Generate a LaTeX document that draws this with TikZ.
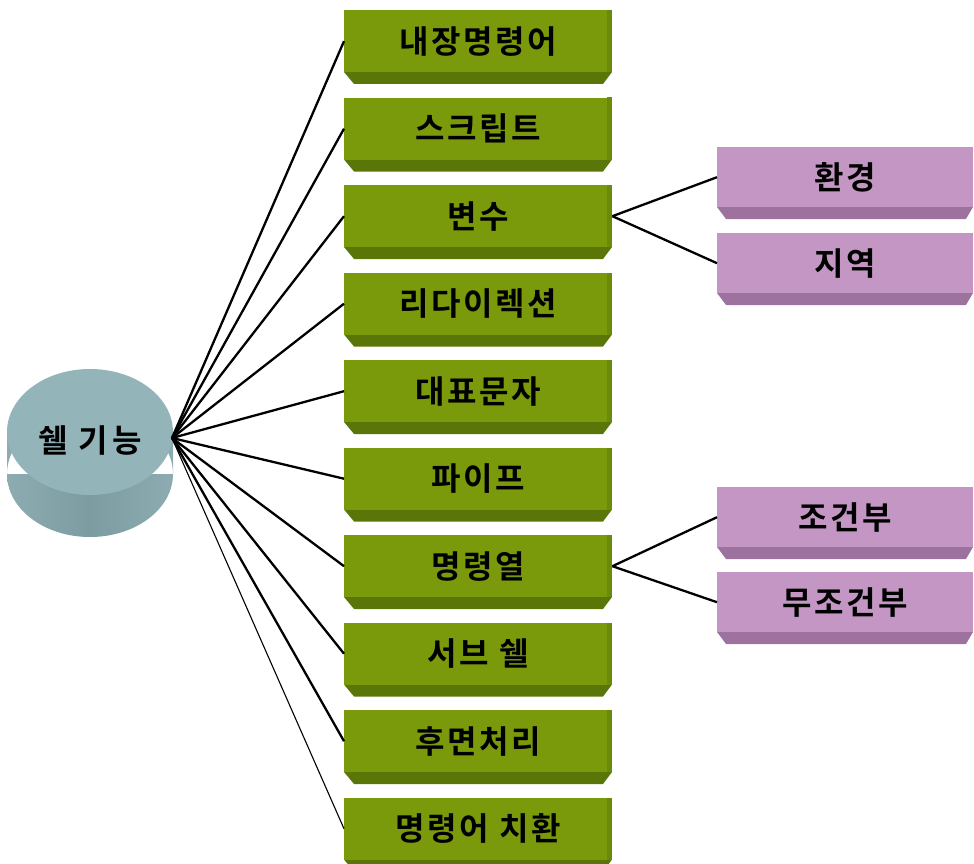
\documentclass[tikz,border=0pt]{standalone}
\usepackage{fontspec}
\newfontfamily\kr{Noto Sans CJK KR}[BoldFont={Noto Sans CJK KR Bold}]
\definecolor{gface}{RGB}{122,154,12}
\definecolor{gbev}{RGB}{90,118,8}
\definecolor{gedge}{RGB}{108,138,10}
\definecolor{pface}{RGB}{196,150,196}
\definecolor{pbev}{RGB}{158,114,158}
\definecolor{ctop}{RGB}{147,180,185}
\definecolor{cside}{RGB}{140,172,177}
\definecolor{csidedark}{RGB}{124,156,162}
\begin{document}
\begin{tikzpicture}[x=1pt,y=-1pt,
  lbl/.style={font=\kr\bfseries\fontsize{32}{32}\selectfont\addfontfeature{LetterSpace=8}, text=black},
  gbox/.style={lbl, fill=gface, minimum width=268pt, minimum height=62pt, inner sep=0pt, anchor=north west},
  pbox/.style={lbl, fill=pface, minimum width=256pt, minimum height=60pt, inner sep=0pt, anchor=north west},
  conn/.style={line width=2.3pt, black},
  thinconn/.style={line width=1.1pt, black}]
\useasboundingbox (0,0) rectangle (974,864);
% cylinder
\shade[left color=cside, right color=cside, middle color=csidedark]
  (90,474) ellipse [x radius=83, y radius=63] (7,432) rectangle (173,474);
\fill[ctop] (90,432) ellipse [x radius=83, y radius=63];
\node[lbl, font=\kr\bfseries\fontsize{32}{32}\selectfont\addfontfeature{LetterSpace=12}] (shell) at (90,440) {쉘 기능};
\coordinate (hub) at (172,438);
% green boxes
\foreach \i/\t in {0/내장명령어,1/스크립트,2/변수,3/리다이렉션,4/대표문자,5/파이프,6/명령열,7/서브 쉘,8/후면처리,9/명령어 치환}{
  \pgfmathsetmacro\T{10+87.5*\i}
  \fill[gbev] (344,\T+62) -- (612,\T+62) -- (603,\T+74) -- (354,\T+74) -- cycle;
  \node[gbox] (g\i) at (344,\T) {\t};
  \fill[gedge] (607,\T) rectangle (612,\T+62);
}
% purple boxes
\foreach \n/\T/\t in {p0/147/환경,p1/233/지역,p2/487/조건부,p3/572/무조건부}{
  \fill[pbev] (717,\T+60) -- (973,\T+60) -- (966,\T+72) -- (726,\T+72) -- cycle;
  \node[pbox] (\n) at (717,\T) {\t};
}
% connectors
\foreach \i in {0,...,8}{ \draw[conn] (hub) -- (g\i.west); }
\draw[thinconn] (hub) -- (g9.west);
\draw[conn] (g2.east) -- (p0.west);
\draw[conn] (g2.east) -- (p1.west);
\draw[conn] (g6.east) -- (p2.west);
\draw[conn] (g6.east) -- (p3.west);
\end{tikzpicture}
\end{document}
